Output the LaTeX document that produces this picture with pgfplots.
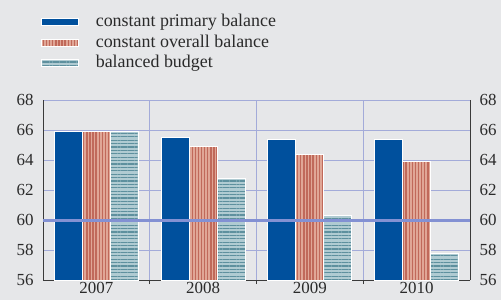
\documentclass[border=0pt]{standalone}
\usepackage{pgfplots}
\pgfplotsset{compat=1.18}
\usepackage{fontspec}
\setmainfont{Liberation Serif}
\usetikzlibrary{patterns.meta}
\definecolor{bg}{HTML}{E6E7E9}
\definecolor{cblue}{HTML}{00509D}
\definecolor{redbase}{HTML}{E0A696}
\definecolor{redline}{HTML}{C0695A}
\definecolor{tealbase}{HTML}{B0CBD2}
\definecolor{tealline}{HTML}{5E909E}
\definecolor{gridc}{HTML}{A3ABD9}
\definecolor{sixty}{HTML}{8391D3}
\definecolor{axc}{HTML}{3A3A3A}
\definecolor{txt}{HTML}{2A2A2A}
\begin{document}
\begin{tikzpicture}[x=1bp,y=1bp]
\fill[bg] (0,0) rectangle (501,300);
\useasboundingbox (0,0) rectangle (501,300);
\begin{axis}[
  at={(43bp,20bp)}, anchor=south west,
  scale only axis, width=427bp, height=180bp,
  xmin=-0.5, xmax=3.5, ymin=56, ymax=68,
  ybar=0pt, bar width=28bp,
  xtick={0,1,2,3}, xticklabels={2007,2008,2009,2010},
  minor xtick={0.5,1.5,2.5},
  ytick={56,58,...,68},
  major tick length=0pt,
  minor tick length=4bp, tick align=outside,
  minor tick style={axc, line width=0.9bp},
  ymajorgrids, xminorgrids,
  grid style={gridc, line width=0.9bp},
  minor grid style={gridc, line width=0.9bp},
  axis x line*=bottom, axis y line*=left,
  axis line style={axc, line width=0.9bp, -},
  tick label style={font=\fontsize{17}{17}\selectfont, text=txt},
  /pgf/number format/assume math mode=true,
  yticklabel style={xshift=-6bp},
  xticklabel style={yshift=1bp},
  legend style={at={(rel axis cs:0,1)}, anchor=north west, xshift=-2bp, yshift=86.5bp,
    draw=none, fill=none, font=\fontsize{18}{18}\selectfont, text=txt,
    row sep=3.5bp, column sep=17bp, inner sep=0pt,
    nodes={inner sep=0pt, text height=13bp, text depth=4bp}},
  legend cell align=left,
  legend image code/.code={\path[#1, draw=white, line width=0.6bp] (0bp,-3.5bp) rectangle (37bp,3.5bp);},
  clip=true,
]
\addplot[fill=cblue, draw=white, line width=1bp] coordinates {(0,65.9) (1,65.5) (2,65.4) (3,65.4)};
\addplot[fill=redbase, draw=white, line width=1bp,
  postaction={pattern={Lines[angle=90, distance=3.1bp, line width=1.4bp]}, pattern color=redline}]
  coordinates {(0,65.9) (1,64.9) (2,64.4) (3,63.9)};
\addplot[fill=tealbase, draw=white, line width=1bp,
  postaction={pattern={Lines[angle=0, distance=3.4bp, line width=1.1bp]}, pattern color=tealline}]
  coordinates {(0,65.9) (1,62.8) (2,60.3) (3,57.8)};
\addplot[sixty, line width=3bp, sharp plot, forget plot] coordinates {(-0.5,60) (3.5,60)};
\legend{constant primary balance, constant overall balance, balanced budget}
\end{axis}
\begin{axis}[
  at={(43bp,20bp)}, anchor=south west,
  scale only axis, width=427bp, height=180bp,
  xmin=-0.5, xmax=3.5, ymin=56, ymax=68,
  axis x line=none, axis y line*=right,
  ytick={56,58,...,68}, major tick length=0pt,
  axis line style={axc, line width=0.9bp, -},
  tick label style={font=\fontsize{17}{17}\selectfont, text=txt},
  /pgf/number format/assume math mode=true,
  yticklabel style={xshift=6bp},
]
\addplot[draw=none, forget plot] coordinates {(0,60)};
\end{axis}
\end{tikzpicture}
\end{document}
